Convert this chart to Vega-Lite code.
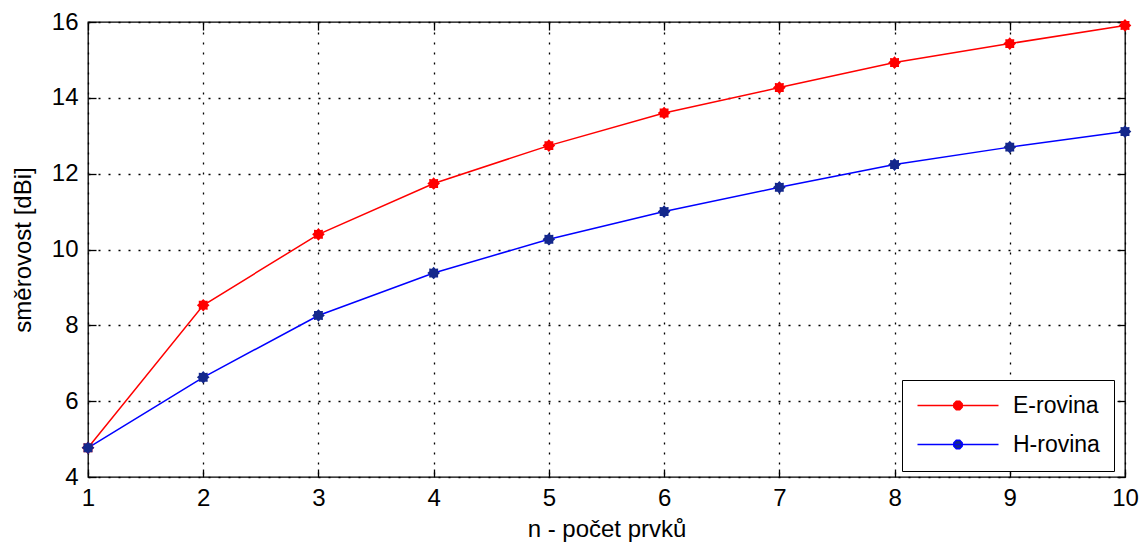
{
  "$schema": "https://vega.github.io/schema/vega-lite/v6.json",
  "width": 1037,
  "height": 455,
  "autosize": {"type": "none"},
  "padding": {"left": 88, "top": 22, "right": 20, "bottom": 70},
  "background": "white",
  "config": {
    "font": "Liberation Sans",
    "view": {"stroke": "black", "strokeWidth": 1.3},
    "axis": {
      "labelFont": "Liberation Sans",
      "titleFont": "Liberation Sans",
      "labelFontSize": 24,
      "titleFontSize": 24,
      "titleFontWeight": "normal",
      "labelColor": "black",
      "titleColor": "black",
      "domain": false,
      "tickColor": "black",
      "tickWidth": 1.3,
      "tickSize": -8,
      "labelFlush": false,
      "labelOverlap": false,
      "gridColor": "black",
      "gridDash": [2, 8],
      "gridWidth": 1.3,
      "gridOpacity": 1
    }
  },
  "data": {
    "values": [
      {"n": 1, "series": "E-rovina", "d": 4.77},
      {"n": 2, "series": "E-rovina", "d": 8.53},
      {"n": 3, "series": "E-rovina", "d": 10.4},
      {"n": 4, "series": "E-rovina", "d": 11.74},
      {"n": 5, "series": "E-rovina", "d": 12.74},
      {"n": 6, "series": "E-rovina", "d": 13.6},
      {"n": 7, "series": "E-rovina", "d": 14.27},
      {"n": 8, "series": "E-rovina", "d": 14.93},
      {"n": 9, "series": "E-rovina", "d": 15.43},
      {"n": 10, "series": "E-rovina", "d": 15.91},
      {"n": 1, "series": "H-rovina", "d": 4.77},
      {"n": 2, "series": "H-rovina", "d": 6.63},
      {"n": 3, "series": "H-rovina", "d": 8.26},
      {"n": 4, "series": "H-rovina", "d": 9.38},
      {"n": 5, "series": "H-rovina", "d": 10.27},
      {"n": 6, "series": "H-rovina", "d": 11.0},
      {"n": 7, "series": "H-rovina", "d": 11.64},
      {"n": 8, "series": "H-rovina", "d": 12.24},
      {"n": 9, "series": "H-rovina", "d": 12.7},
      {"n": 10, "series": "H-rovina", "d": 13.11}
    ]
  },
  "layer": [
    {
      "mark": {"type": "line", "strokeWidth": 1.5},
      "encoding": {
        "x": {
          "field": "n", "type": "quantitative",
          "scale": {"domain": [1, 10], "nice": false, "zero": false},
          "axis": {"values": [1,2,3,4,5,6,7,8,9,10], "title": "n - počet prvků", "grid": true, "labelPadding": 17, "titlePadding": 7, "format": "d"}
        },
        "y": {
          "field": "d", "type": "quantitative",
          "scale": {"domain": [4, 16], "nice": false, "zero": false},
          "axis": {"values": [4,6,8,10,12,14,16], "title": "směrovost [dBi]", "grid": true, "labelPadding": 18, "titlePadding": 16, "format": "d"}
        },
        "color": {
          "field": "series", "type": "nominal",
          "scale": {"domain": ["E-rovina", "H-rovina"], "range": ["#ff0000", "#0000ff"]},
          "legend": {
            "title": null,
            "orient": "none",
            "legendX": 814,
            "legendY": 358,
            "direction": "vertical",
            "strokeColor": "black",
            "fillColor": "white",
            "padding": 14,
            "labelFont": "Liberation Sans",
            "labelFontSize": 23,
            "labelColor": "black",
            "labelOffset": 74,
            "rowPadding": 15,
            "symbolSize": 400,
            "symbolStrokeWidth": 1.5,
            "symbolType": "M-1,0 L7.1,0 M3.466,0.172 L3.222,0.416 L2.878,0.416 L2.634,0.172 L2.634,-0.172 L2.878,-0.416 L3.222,-0.416 L3.466,-0.172 Z",
            "encode": {
              "symbols": {
                "update": {
                  "fill": {"signal": "datum.value === 'H-rovina' ? '#14288c' : '#ff0000'"},
                  "fillOpacity": {"value": 1},
                  "stroke": {"signal": "datum.value === 'H-rovina' ? '#0000ff' : '#ff0000'"}
                }
              }
            }
          }
        }
      }
    },
    {
      "mark": {
        "type": "point", "filled": true, "opacity": 1, "size": 160,
        "shape": "M1,0 L0.693,0.287 L0.707,0.707 L0.287,0.693 L0,1 L-0.287,0.693 L-0.707,0.707 L-0.693,0.287 L-1,0 L-0.693,-0.287 L-0.707,-0.707 L-0.287,-0.693 L0,-1 L0.287,-0.693 L0.707,-0.707 L0.693,-0.287 Z"
      },
      "encoding": {
        "x": {"field": "n", "type": "quantitative", "axis": null},
        "y": {"field": "d", "type": "quantitative", "axis": null},
        "color": {
          "condition": {"test": "datum.series === 'H-rovina'", "value": "#14288c"},
          "value": "#ff0000"
        }
      }
    },
    {
      "mark": {"type": "point", "opacity": 0},
      "encoding": {
        "x": {"field": "n", "type": "quantitative", "axis": {"orient": "top", "values": [1,2,3,4,5,6,7,8,9,10], "labels": false, "title": null, "grid": false}},
        "y": {"field": "d", "type": "quantitative", "axis": {"orient": "right", "values": [4,6,8,10,12,14,16], "labels": false, "title": null, "grid": false}}
      }
    }
  ],
  "resolve": {"axis": {"x": "independent", "y": "independent"}}
}
